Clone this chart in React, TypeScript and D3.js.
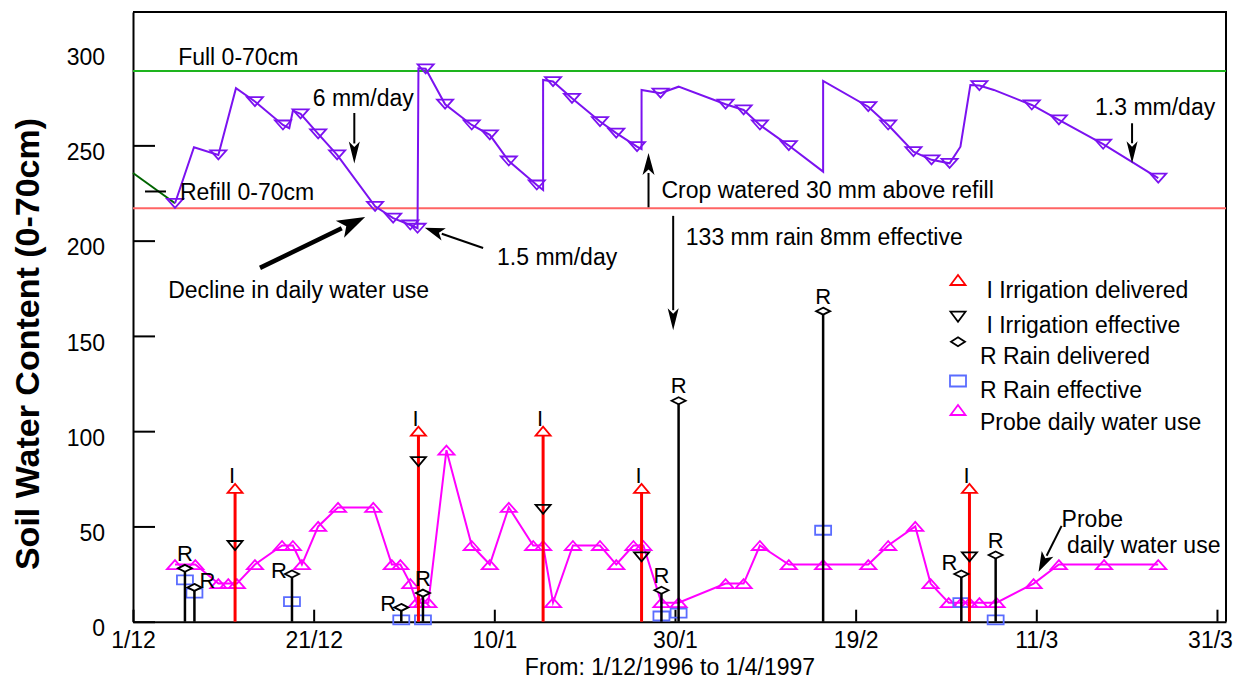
import { useEffect, useRef } from "react";
import * as d3 from "d3";

const width = 1236;
const height = 684;

// days after 1/12/1996 and soil water content (mm, 0-70cm)
const priorLine: [number, number][] = [[0, 235.5], [4.65, 219.6]];
const soilLine: [number, number][] = [
  [4.65, 219.6], [6.75, 249], [9.45, 245], [11.4, 280], [13.5, 273], [16.6, 260.7],
  [17.3, 259], [17.7, 268.2], [18.55, 266.5], [20.5, 256], [22.6, 245], [26.8, 218],
  [28.8, 211.8], [30.7, 208.2], [31.5, 206.5], [31.6, 290.5], [32.4, 290.2], [34.55, 271.6],
  [37.5, 260.7], [39.5, 255.5], [41.6, 241.8], [44.7, 229.2], [45.4, 226.6], [45.4, 284.3],
  [46.5, 283.5], [48.6, 274.7], [51.7, 262.5], [53.5, 256.4], [55.8, 249.3], [56.3, 248],
  [56.3, 279.1], [58.4, 277.4], [60.4, 280.8], [65.6, 271.6], [67.6, 268.6], [69.4, 260.7],
  [72.6, 249.9], [76.4, 236.2], [76.4, 283.8], [81.4, 270.3], [83.6, 260.7], [86.4, 246.7],
  [88.4, 242.4], [90.4, 240.6], [91.6, 249.3], [92.7, 281.7], [93.7, 281.4], [95.3, 279.1],
  [99.5, 271.2], [102.5, 263.4], [107.4, 250.6], [113.5, 232.8],
];
const soilReadings: [number, number][] = [
  [4.65, 219.6], [9.45, 245], [13.5, 273], [16.6, 260.7], [18.55, 266.5], [20.5, 256],
  [22.6, 245], [26.8, 218], [28.8, 211.8], [30.7, 208.2], [31.5, 206.5], [32.4, 290.2],
  [34.55, 271.6], [37.5, 260.7], [39.5, 255.5], [41.6, 241.8], [44.7, 229.2], [46.5, 283.5],
  [48.6, 274.7], [51.7, 262.5], [53.5, 256.4], [55.8, 249.3], [58.4, 277.4], [65.6, 271.6],
  [67.6, 268.6], [69.4, 260.7], [72.6, 249.9], [81.4, 270.3], [83.6, 260.7], [86.4, 246.7],
  [88.4, 242.4], [90.4, 240.6], [93.7, 281.4], [99.5, 271.2], [102.5, 263.4], [107.4, 250.6],
  [113.5, 232.8],
];
const fullLevel = 289;
const refillLevel = 217;

// probe daily water use (day, mm x10)
const probeUse: [number, number][] = [
  [4.65, 30], [6.9, 30], [9.45, 20], [10.55, 20], [11.5, 20], [13.5, 30], [16.5, 40],
  [17.7, 40], [18.7, 30], [20.5, 50], [22.7, 60], [26.6, 60], [28.65, 30], [29.6, 30],
  [30.7, 20], [31.4, 10], [32.0, 10], [32.7, 10], [34.7, 90], [37.5, 40], [39.5, 30],
  [41.6, 60], [44.3, 40], [45.4, 40], [46.5, 10], [48.7, 40], [51.7, 40], [53.5, 30],
  [55.4, 40], [56.5, 40], [58.5, 10], [60.4, 10], [65.6, 20], [67.6, 20], [69.4, 40],
  [72.6, 30], [76.4, 30], [81.4, 30], [83.6, 40], [86.6, 50], [88.3, 20], [90.3, 10],
  [91.7, 10], [92.6, 10], [93.7, 10], [95.6, 10], [99.7, 20], [102.5, 30], [107.5, 30],
  [113.5, 30],
];

const irrigationDays = [11.3, 31.6, 45.4, 56.3, 92.6];
const irrigationDelivered = [70, 100, 100, 70, 70];
const irrigationEffective = [40, 84, 59, 34, 34];

const rainDays = [5.75, 6.8, 17.6, 29.7, 32.1, 58.5, 60.4, 76.4, 91.7, 95.5];
const rainDelivered = [28, 18, 25, 7.5, 15, 16.5, 116, 163, 25, 35];
const rainEffective = [22, 15, 10.5, 1, 1, 3, 4.5, 48, 10, 1];
const rainLabelSide = ["above", "right", "left", "left", "above", "above", "above", "above", "upleft", "above"];

const xTickDays = [0, 20, 40, 60, 80, 100, 120];
const xTickLabels = ["1/12", "21/12", "10/1", "30/1", "19/2", "11/3", "31/3"];
const yTicks = [0, 50, 100, 150, 200, 250, 300];

const legendItems = [
  { shape: "up", color: "#ff0000", label: " I Irrigation delivered" },
  { shape: "down", color: "#000", label: " I Irrigation effective" },
  { shape: "diamond", color: "#000", label: "R Rain delivered" },
  { shape: "square", color: "#5a6cff", label: "R Rain effective" },
  { shape: "up", color: "#ff00ff", label: "Probe daily water use" },
];

const tri = (w: number, h: number, down: boolean) =>
  down ? `M${-w / 2},${-h / 2}L${w / 2},${-h / 2}L0,${h / 2}Z` : `M${-w / 2},${h / 2}L${w / 2},${h / 2}L0,${-h / 2}Z`;
const diamond = (w: number, h: number) => `M0,${-h / 2}L${w / 2},0L0,${h / 2}L${-w / 2},0Z`;
const rect = (w: number, h: number) => `M${-w / 2},${-h / 2}H${w / 2}V${h / 2}H${-w / 2}Z`;

export default function App() {
  const svgRef = useRef<SVGSVGElement>(null);
  useEffect(() => {
    if (!svgRef.current) return;
    document.body.style.margin = "0";
    const svg = d3.select(svgRef.current);
    svg.selectAll("*").remove();

    const t0 = Date.UTC(1996, 11, 1);
    const day = (d: number) => new Date(t0 + d * 864e5);
    const x = d3.scaleUtc([day(0), new Date(Date.UTC(1997, 3, 1))], [133, 1226]);
    const y = d3.scaleLinear([0, 320], [621.7, 12]);
    const X = (d: number) => x(day(d));
    const fs = 23;

    // frame
    svg.append("path")
      .attr("d", `M133,12H1226V${y(0)}`)
      .attr("fill", "none").attr("stroke", "#000").attr("stroke-width", 2);

    // axes
    svg.append("g")
      .attr("transform", "translate(133,0)")
      .call(d3.axisLeft(y).tickValues(yTicks).tickSizeInner(-22).tickSizeOuter(0).tickPadding(28))
      .call(g => g.selectAll(".tick line").filter((d: any) => d === 300).remove())
      .call(g => g.selectAll(".tick text").attr("dy", "0.62em").attr("font-size", fs).attr("fill", "#000"))
      .call(g => g.selectAll("line,path").attr("stroke", "#000").attr("stroke-width", 2));

    svg.append("g")
      .attr("transform", `translate(0,${y(0)})`)
      .call(d3.axisBottom(x).tickValues(xTickDays.map(day)).tickFormat((_, i) => xTickLabels[i])
        .tickSizeInner(-12).tickSizeOuter(0).tickPadding(10))
      .call(g => g.selectAll(".tick text").attr("font-size", fs).attr("fill", "#000")
        .attr("dx", (_: any, i: number) => (i === xTickDays.length - 1 ? -7 : 0)))
      .call(g => g.selectAll("line,path").attr("stroke", "#000").attr("stroke-width", 2));

    svg.append("text")
      .attr("x", 670).attr("y", 667).attr("text-anchor", "middle").attr("dominant-baseline", "central")
      .attr("font-size", fs).text("From: 1/12/1996 to 1/4/1997");
    svg.append("text")
      .attr("transform", "translate(27,344) rotate(-90)").attr("text-anchor", "middle")
      .attr("dominant-baseline", "central").attr("font-size", 34).attr("font-weight", "bold")
      .text("Soil Water Content (0-70cm)");

    // full and refill levels
    svg.append("line").attr("x1", 133).attr("x2", 1226).attr("y1", y(fullLevel)).attr("y2", y(fullLevel))
      .attr("stroke", "#1eb41e").attr("stroke-width", 2);
    svg.append("line").attr("x1", 133).attr("x2", 1226).attr("y1", y(refillLevel)).attr("y2", y(refillLevel))
      .attr("stroke", "#ff6464").attr("stroke-width", 2);

    const line = d3.line<[number, number]>().x(d => X(d[0])).y(d => y(d[1]));
    svg.append("path").attr("d", line(priorLine)).attr("fill", "none").attr("stroke", "#006400").attr("stroke-width", 2);
    svg.append("path").attr("d", line(soilLine)).attr("fill", "none").attr("stroke", "#7b12f0").attr("stroke-width", 2);
    svg.append("g").selectAll("path").data(soilReadings).join("path")
      .attr("transform", d => `translate(${X(d[0])},${y(d[1])})`)
      .attr("d", tri(16, 9, true)).attr("fill", "none").attr("stroke", "#7b12f0").attr("stroke-width", 1.8);

    // probe daily water use
    svg.append("path").attr("d", line(probeUse)).attr("fill", "none").attr("stroke", "#ff00ff").attr("stroke-width", 2);
    svg.append("g").selectAll("path").data(probeUse).join("path")
      .attr("transform", d => `translate(${X(d[0])},${y(d[1])})`)
      .attr("d", tri(16, 9, false)).attr("fill", "none").attr("stroke", "#ff00ff").attr("stroke-width", 1.8);

    // rain effective squares
    svg.append("g").selectAll("path").data(rainDays).join("path")
      .attr("transform", (d, i) => `translate(${X(d)},${y(rainEffective[i])})`)
      .attr("d", rect(16, 9)).attr("fill", "none").attr("stroke", "#5a6cff").attr("stroke-width", 1.8);

    // irrigation stems
    const irr = svg.append("g");
    irr.selectAll("line").data(irrigationDays).join("line")
      .attr("x1", d => X(d)).attr("x2", d => X(d))
      .attr("y1", y(0)).attr("y2", (d, i) => y(irrigationDelivered[i]) + 4)
      .attr("stroke", "#ff0000").attr("stroke-width", 3);
    irr.selectAll("path.del").data(irrigationDays).join("path").attr("class", "del")
      .attr("transform", (d, i) => `translate(${X(d)},${y(irrigationDelivered[i])})`)
      .attr("d", tri(15, 9, false)).attr("fill", "none").attr("stroke", "#ff0000").attr("stroke-width", 1.8);
    irr.selectAll("path.eff").data(irrigationDays).join("path").attr("class", "eff")
      .attr("transform", (d, i) => `translate(${X(d)},${y(irrigationEffective[i])})`)
      .attr("d", tri(15, 9, true)).attr("fill", "none").attr("stroke", "#000").attr("stroke-width", 1.8);
    irr.selectAll("text").data(irrigationDays).join("text")
      .attr("x", d => X(d) - 3).attr("y", (d, i) => y(irrigationDelivered[i]) - 13)
      .attr("text-anchor", "middle").attr("dominant-baseline", "central").attr("font-size", 22).text("I");

    // rain stems
    const rain = svg.append("g");
    rain.selectAll("line").data(rainDays).join("line")
      .attr("x1", d => X(d)).attr("x2", d => X(d))
      .attr("y1", y(0)).attr("y2", (d, i) => y(rainDelivered[i]) + 3)
      .attr("stroke", "#000").attr("stroke-width", 2.5);
    rain.selectAll("path").data(rainDays).join("path")
      .attr("transform", (d, i) => `translate(${X(d)},${y(rainDelivered[i])})`)
      .attr("d", diamond(14, 7)).attr("fill", "#fff").attr("stroke", "#000").attr("stroke-width", 1.8);
    const off: Record<string, [number, number]> = { above: [0, -15], right: [13, -7], left: [-13, -4], upleft: [-12, -12] };
    rain.selectAll("text").data(rainDays).join("text")
      .attr("x", (d, i) => X(d) + off[rainLabelSide[i]][0])
      .attr("y", (d, i) => y(rainDelivered[i]) + off[rainLabelSide[i]][1])
      .attr("text-anchor", "middle").attr("dominant-baseline", "central").attr("font-size", 22).text("R");

    // annotations
    const ann = svg.append("g").attr("font-size", fs);
    const label = (d: number, v: number, t: string) =>
      ann.append("text").attr("x", X(d)).attr("y", y(v)).attr("dominant-baseline", "central").text(t);
    const arrow = (d1: number, v1: number, d2: number, v2: number, head: number, hw: number, sw: number) => {
      const x1 = X(d1), y1 = y(v1), x2 = X(d2), y2 = y(v2);
      const len = Math.hypot(x2 - x1, y2 - y1);
      const ux = (x2 - x1) / len, uy = (y2 - y1) / len;
      const bx = x2 - ux * head, by = y2 - uy * head;
      ann.append("line").attr("x1", x1).attr("y1", y1).attr("x2", bx + ux * 2).attr("y2", by + uy * 2)
        .attr("stroke", "#000").attr("stroke-width", sw);
      ann.append("path")
        .attr("d", `M${x2},${y2}L${bx - uy * hw / 2},${by + ux * hw / 2}L${bx + ux * head * 0.25},${by + uy * head * 0.25}L${bx + uy * hw / 2},${by - ux * hw / 2}Z`)
        .attr("fill", "#000");
    };
    label(5.0, 296.4, "Full 0-70cm");
    label(5.2, 225.6, "Refill 0-70cm");
    ann.append("line").attr("x1", X(1.33)).attr("x2", X(3.65)).attr("y1", y(225.8)).attr("y2", y(225.8))
      .attr("stroke", "#000").attr("stroke-width", 2);
    label(19.9, 274.9, "6 mm/day");
    arrow(24.5, 267, 24.5, 240.5, 22, 11, 2);
    label(40.3, 191.4, "1.5 mm/day");
    arrow(38.76, 196.1, 32.3, 206.7, 20, 13, 2);
    label(3.9, 174.1, "Decline in daily water use");
    arrow(14.06, 185.7, 25.7, 212.4, 28, 19, 4.5);
    label(58.5, 226.6, "Crop watered 30 mm above refill");
    arrow(57.07, 217.5, 57.07, 246, 22, 12, 2);
    label(61.2, 202, "133 mm rain 8mm effective");
    arrow(59.8, 213, 59.8, 153, 22, 11, 2);
    label(106.5, 270.2, "1.3 mm/day");
    arrow(110.6, 261.6, 110.6, 240.6, 22, 11, 2);
    label(102.8, 53.9, "Probe");
    label(103.4, 40.3, "daily water use");
    arrow(102.8, 50.3, 100.25, 26.2, 20, 13, 2);

    // legend
    const lg = svg.append("g").attr("font-size", fs);
    const markerY = [280, 316.7, 341.7, 381, 410];
    const textY = [290, 325, 356, 390, 421.7];
    legendItems.forEach((it, i) => {
      const d = it.shape === "up" ? tri(15, 10, false) : it.shape === "down" ? tri(15, 10, true)
        : it.shape === "diamond" ? diamond(14, 9) : rect(16, 11);
      lg.append("path").attr("transform", `translate(958,${markerY[i]})`).attr("d", d)
        .attr("fill", "none").attr("stroke", it.color).attr("stroke-width", 1.8);
      lg.append("text").attr("x", 980).attr("y", textY[i]).attr("dominant-baseline", "central")
        .attr("xml:space", "preserve").style("white-space", "pre").text(it.label);
    });

    return () => {
      svg.selectAll("*").remove();
    };
  }, []);

  return (
    <svg
      ref={svgRef}
      width={width}
      height={height}
      viewBox={`0 0 ${width} ${height}`}
      style={{ display: "block", background: "#fff", fontFamily: "'Liberation Sans', Arial, sans-serif" }}
    />
  );
}
